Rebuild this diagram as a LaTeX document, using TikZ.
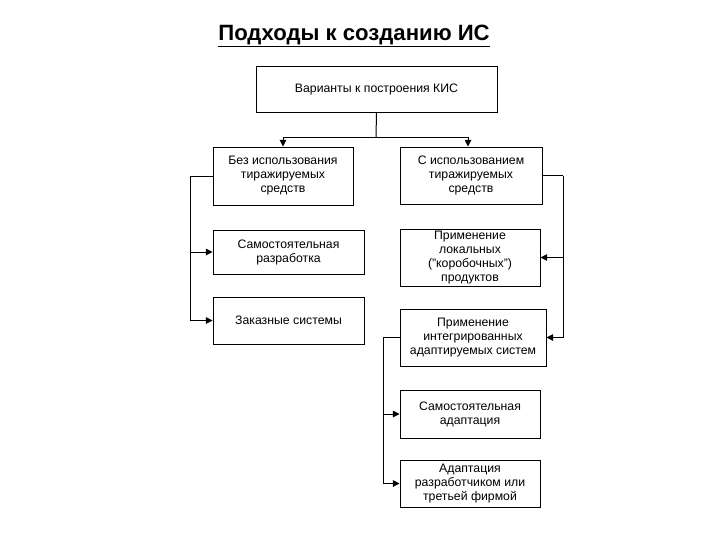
\documentclass[tikz,border=0pt]{standalone}
\usepackage{fontspec}
\setmainfont{Liberation Sans}
\usetikzlibrary{arrows.meta}
\begin{document}
\begin{tikzpicture}[x=0.75pt,y=-0.75pt,
  bx/.style={draw, line width=0.75pt, align=center, inner sep=0pt, font=\fontsize{9.2}{10.5}\selectfont},
  conn/.style={line width=0.75pt},
  arr/.style={conn, -{Triangle[length=5pt,width=5pt]}}]
\useasboundingbox (0,0) rectangle (720,540);
\node[anchor=base, font=\fontsize{16.6}{19}\selectfont\bfseries] (title) at (354,40) {\underline{Подходы к созданию ИС}};
\node[bx, minimum width=180.75pt, minimum height=34.5pt] (top) at (376.5,89) {Варианты к построения КИС};
\node[bx, minimum width=105pt, minimum height=43.5pt] (L1) at (283,176) {Без использования\\тиражируемых\\средств};
\node[bx, minimum width=113.25pt, minimum height=33pt] (L2) at (288.5,252) {Самостоятельная\\разработка};
\node[bx, minimum width=113.25pt, minimum height=35.25pt] (L3) at (288.5,320.5) {Заказные системы};
\node[bx, minimum width=106.5pt, minimum height=42.75pt] (R1) at (471,175.5) {С использованием\\тиражируемых\\средств};
\node[bx, minimum width=105pt, minimum height=42.75pt] (R2) at (470,257.5) {Применение\\локальных\\("коробочных")\\продуктов};
\node[bx, minimum width=109.5pt, minimum height=42.75pt] (R3) at (473,337.5) {Применение\\интегрированных\\адаптируемых систем};
\node[bx, minimum width=105pt, minimum height=36pt] (R4) at (470,414) {Самостоятельная\\адаптация};
\node[bx, minimum width=105pt, minimum height=35.25pt] (R5) at (470,483.5) {Адаптация\\разработчиком или\\третьей фирмой};
\coordinate (j) at (376,137);
\draw[conn] (top.south) -- (j);
\draw[arr] (j) -| (L1.north);
\draw[arr] (j) -| ([xshift=-2.25pt]R1.north);
\coordinate (lj) at (190,176);
\draw[conn] (L1.west) -- (lj);
\draw[arr] (lj) |- (L2.west);
\draw[arr] (lj) |- (L3.west);
\coordinate (rj) at (563,175.5);
\draw[conn] (R1.east) -- (rj);
\draw[arr] (rj) |- (R2.east);
\draw[arr] (rj) |- (R3.east);
\coordinate (bj) at (383,337.5);
\draw[conn] (R3.west) -- (bj);
\draw[arr] (bj) |- (R4.west);
\draw[arr] (bj) |- (R5.west);
\end{tikzpicture}
\end{document}
